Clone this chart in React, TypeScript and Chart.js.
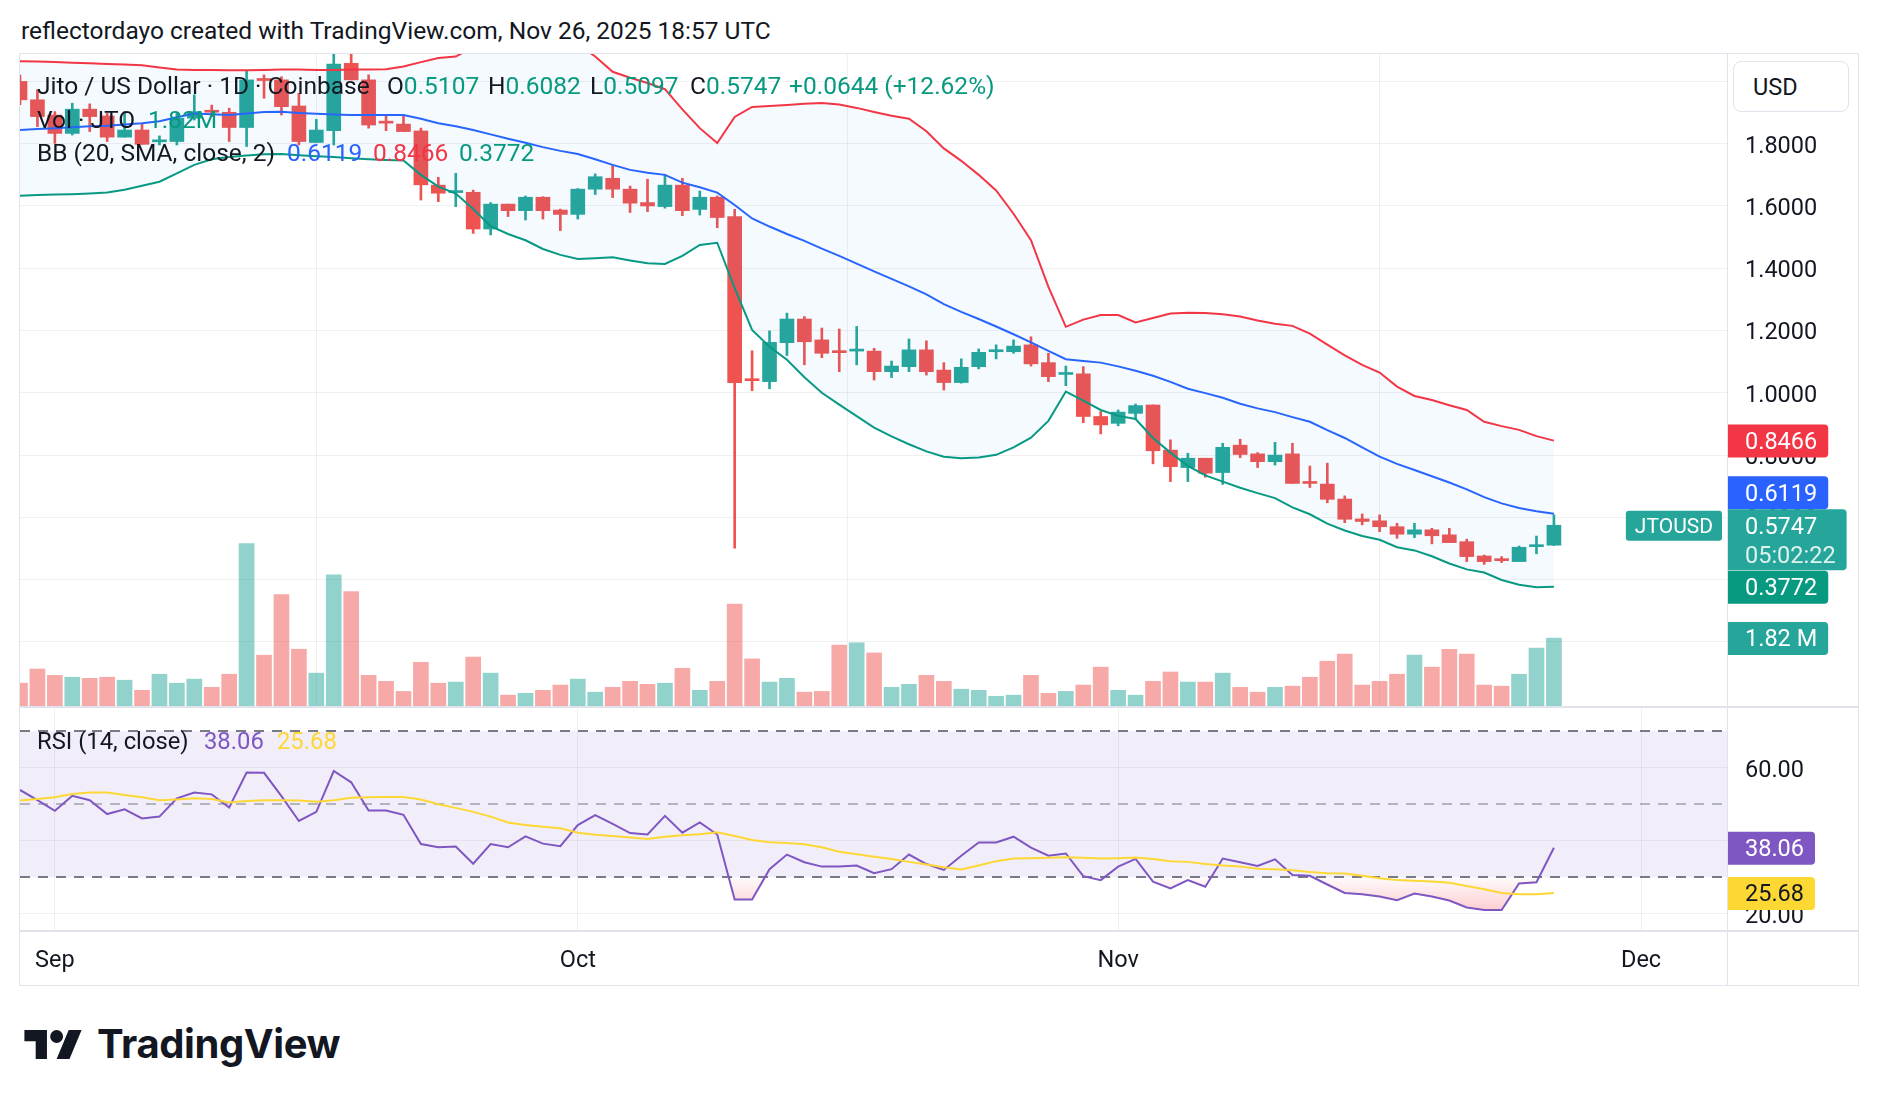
import React, { useEffect, useRef } from 'react';
import { Chart, registerables } from 'chart.js';

Chart.register(...registerables);

// ---------------- data (daily candles, first candle 2025-08-30) ----------------
const firstDate = '2025-08-30';
const axisOrigin = '2025-09-01';

const opens = [
  2.000, 1.941, 1.892, 1.833, 1.911, 1.889, 1.821, 1.844, 1.806, 1.807,
  1.882, 1.905, 1.901, 1.852, 2.007, 2.005, 1.921, 1.804, 1.842, 2.058,
  2.005, 1.871, 1.863, 1.841, 1.667, 1.643, 1.644, 1.526, 1.606, 1.585,
  1.628, 1.587, 1.573, 1.654, 1.689, 1.654, 1.611, 1.598, 1.667, 1.589,
  1.628, 1.566, 1.043, 1.036, 1.161, 1.237, 1.170, 1.134, 1.134, 1.134,
  1.068, 1.084, 1.138, 1.073, 1.033, 1.084, 1.132, 1.132, 1.154, 1.097,
  1.059, 1.061, 0.924, 0.902, 0.934, 0.961, 0.816, 0.760, 0.790, 0.744,
  0.832, 0.804, 0.779, 0.804, 0.715, 0.707, 0.659, 0.595, 0.589, 0.570,
  0.546, 0.560, 0.544, 0.522, 0.476, 0.467, 0.458, 0.506, 0.5107,
];
const highs = [
  2.020, 1.973, 1.903, 1.930, 1.928, 1.898, 1.903, 1.863, 1.825, 1.898,
  1.957, 1.924, 1.914, 2.035, 2.021, 2.015, 1.962, 1.878, 2.095, 2.095,
  2.021, 1.892, 1.892, 1.850, 1.692, 1.705, 1.651, 1.611, 1.606, 1.632,
  1.630, 1.590, 1.656, 1.703, 1.730, 1.664, 1.686, 1.700, 1.689, 1.648,
  1.632, 1.589, 1.135, 1.199, 1.256, 1.245, 1.208, 1.205, 1.213, 1.143,
  1.102, 1.173, 1.167, 1.097, 1.109, 1.141, 1.154, 1.170, 1.180, 1.127,
  1.086, 1.084, 0.940, 0.945, 0.964, 0.961, 0.849, 0.806, 0.790, 0.838,
  0.851, 0.808, 0.841, 0.838, 0.765, 0.774, 0.669, 0.611, 0.608, 0.581,
  0.581, 0.565, 0.565, 0.530, 0.479, 0.474, 0.508, 0.540, 0.6082,
];
const lows = [
  1.925, 1.855, 1.801, 1.828, 1.839, 1.807, 1.821, 1.798, 1.796, 1.796,
  1.876, 1.887, 1.807, 1.791, 1.946, 1.892, 1.796, 1.804, 1.796, 2.005,
  1.850, 1.842, 1.839, 1.619, 1.614, 1.598, 1.512, 1.507, 1.566, 1.555,
  1.558, 1.521, 1.558, 1.637, 1.627, 1.579, 1.582, 1.593, 1.569, 1.571,
  1.530, 0.501, 1.007, 1.013, 1.120, 1.090, 1.113, 1.068, 1.090, 1.041,
  1.049, 1.068, 1.057, 1.009, 1.031, 1.077, 1.109, 1.127, 1.086, 1.036,
  1.023, 0.904, 0.868, 0.894, 0.916, 0.772, 0.715, 0.715, 0.729, 0.706,
  0.792, 0.760, 0.768, 0.709, 0.696, 0.647, 0.583, 0.576, 0.554, 0.533,
  0.535, 0.515, 0.519, 0.458, 0.449, 0.455, 0.458, 0.483, 0.5097,
];
const closes = [
  1.941, 1.887, 1.833, 1.911, 1.887, 1.821, 1.844, 1.798, 1.810, 1.882,
  1.903, 1.901, 1.852, 2.005, 2.003, 1.919, 1.807, 1.844, 2.056, 2.005,
  1.860, 1.866, 1.839, 1.668, 1.641, 1.646, 1.526, 1.606, 1.585, 1.628,
  1.585, 1.573, 1.654, 1.694, 1.654, 1.609, 1.600, 1.667, 1.585, 1.628,
  1.563, 1.033, 1.039, 1.162, 1.237, 1.164, 1.127, 1.129, 1.137, 1.068,
  1.086, 1.138, 1.068, 1.033, 1.082, 1.130, 1.136, 1.150, 1.093, 1.052,
  1.063, 0.924, 0.897, 0.938, 0.959, 0.814, 0.763, 0.790, 0.742, 0.825,
  0.802, 0.779, 0.800, 0.709, 0.709, 0.658, 0.594, 0.587, 0.570, 0.546,
  0.560, 0.541, 0.519, 0.474, 0.458, 0.461, 0.504, 0.5103, 0.5747,
];
// volume, millions of JTO
const volumes = [
  0.61, 0.99, 0.82, 0.77, 0.74, 0.77, 0.69, 0.42, 0.85, 0.61,
  0.72, 0.50, 0.85, 4.35, 1.36, 2.98, 1.52, 0.88, 3.51, 3.06,
  0.82, 0.66, 0.39, 1.17, 0.61, 0.64, 1.31, 0.88, 0.29, 0.34,
  0.42, 0.56, 0.72, 0.37, 0.50, 0.66, 0.58, 0.61, 1.01, 0.42,
  0.66, 2.73, 1.26, 0.64, 0.74, 0.37, 0.39, 1.63, 1.69, 1.42,
  0.50, 0.58, 0.82, 0.66, 0.45, 0.42, 0.26, 0.29, 0.82, 0.34,
  0.39, 0.56, 1.04, 0.42, 0.29, 0.66, 0.91, 0.64, 0.64, 0.88,
  0.50, 0.37, 0.50, 0.53, 0.77, 1.20, 1.39, 0.56, 0.66, 0.85,
  1.36, 1.04, 1.52, 1.39, 0.56, 0.53, 0.85, 1.55, 1.82,
];
// Bollinger Bands (20, SMA, close, 2)
const bbUpper = [
  2.065, 2.064, 2.062, 2.060, 2.058, 2.056, 2.054, 2.052, 2.045, 2.038,
  2.037, 2.037, 2.036, 2.036, 2.037, 2.038, 2.038, 2.037, 2.037, 2.038,
  2.038, 2.039, 2.048, 2.062, 2.075, 2.080, 2.110, 2.130, 2.150, 2.160,
  2.160, 2.150, 2.120, 2.080, 2.031, 2.012, 1.995, 1.975, 1.910, 1.850,
  1.802, 1.886, 1.918, 1.921, 1.924, 1.928, 1.931, 1.926, 1.915, 1.902,
  1.890, 1.880, 1.840, 1.785, 1.745, 1.700, 1.650, 1.575, 1.490, 1.340,
  1.212, 1.235, 1.250, 1.250, 1.226, 1.240, 1.255, 1.257, 1.256, 1.252,
  1.245, 1.232, 1.222, 1.215, 1.190, 1.155, 1.120, 1.090, 1.065, 1.020,
  0.990, 0.977, 0.960, 0.945, 0.907, 0.893, 0.881, 0.861, 0.8466,
];
const bbBasis = [
  1.844, 1.847, 1.850, 1.853, 1.856, 1.858, 1.862, 1.866, 1.872, 1.885,
  1.897, 1.895, 1.892, 1.897, 1.902, 1.903, 1.899, 1.896, 1.894, 1.892,
  1.892, 1.892, 1.892, 1.880, 1.866, 1.856, 1.844, 1.830, 1.816, 1.803,
  1.789, 1.777, 1.767, 1.750, 1.732, 1.716, 1.707, 1.700, 1.675, 1.660,
  1.643, 1.603, 1.560, 1.534, 1.510, 1.488, 1.463, 1.440, 1.415, 1.390,
  1.366, 1.342, 1.316, 1.285, 1.260, 1.237, 1.213, 1.188, 1.162, 1.135,
  1.108, 1.102, 1.097, 1.085, 1.071, 1.055, 1.035, 1.013, 0.999, 0.984,
  0.965, 0.950, 0.938, 0.922, 0.907, 0.880, 0.855, 0.825, 0.795, 0.772,
  0.752, 0.732, 0.712, 0.690, 0.665, 0.645, 0.630, 0.620, 0.6119,
];
const bbLower = [
  1.633, 1.635, 1.637, 1.638, 1.640, 1.643, 1.652, 1.665, 1.678, 1.705,
  1.732, 1.750, 1.757, 1.762, 1.766, 1.767, 1.763, 1.760, 1.757, 1.753,
  1.750, 1.748, 1.746, 1.700, 1.662, 1.640, 1.590, 1.535, 1.510, 1.490,
  1.462, 1.443, 1.430, 1.432, 1.435, 1.425, 1.416, 1.414, 1.440, 1.475,
  1.482, 1.336, 1.202, 1.148, 1.106, 1.050, 1.000, 0.962, 0.925, 0.888,
  0.860, 0.835, 0.812, 0.795, 0.790, 0.792, 0.801, 0.825, 0.856, 0.910,
  1.004, 0.975, 0.945, 0.926, 0.916, 0.855, 0.808, 0.765, 0.735, 0.715,
  0.695, 0.678, 0.662, 0.632, 0.610, 0.580, 0.558, 0.540, 0.528, 0.504,
  0.494, 0.475, 0.452, 0.433, 0.423, 0.399, 0.384, 0.376, 0.3772,
];
// RSI (14, close) and its moving average
const rsi = [
  53.9, 51.1, 48.2, 52.3, 51.1, 47.3, 48.6, 46.1, 46.6, 51.6,
  53.2, 52.7, 49.1, 58.7, 58.6, 52.2, 45.4, 47.9, 59.1, 56.0,
  48.3, 48.3, 47.1, 39.1, 38.2, 38.4, 33.7, 39.1, 38.2, 41.2,
  39.2, 38.5, 44.3, 47.0, 44.6, 42.1, 41.7, 46.8, 42.2, 45.0,
  41.7, 23.9, 23.9, 32.2, 36.2, 34.1, 32.9, 32.9, 33.2, 31.1,
  32.2, 36.2, 33.6, 32.0, 35.9, 39.5, 39.5, 41.1, 38.1, 35.9,
  36.5, 30.3, 29.2, 32.9, 35.0, 28.8, 26.9, 29.2, 27.4, 35.1,
  34.1, 33.1, 34.9, 30.6, 30.4, 28.0, 25.7, 25.3, 24.7, 23.7,
  25.5, 24.7, 23.6, 21.7, 21.0, 21.0, 28.3, 28.6, 38.06,
];
const rsiMa = [
  51.0, 51.4, 51.9, 52.8, 53.2, 53.2, 52.5, 51.9, 51.1, 51.3,
  51.6, 51.4, 50.5, 50.9, 51.1, 51.1, 51.0, 50.7, 51.1, 51.8,
  51.9, 52.0, 52.0, 51.3, 50.0, 49.0, 47.9, 46.6, 45.0, 44.3,
  43.8, 43.4, 42.2, 41.6, 41.3, 40.9, 40.5, 41.1, 41.5, 41.8,
  42.3, 41.3, 40.2, 39.6, 39.4, 39.0, 38.2, 37.0, 36.3, 35.6,
  35.0, 34.2, 33.5, 32.7, 32.1, 33.2, 34.4, 35.1, 35.2, 35.3,
  35.5, 35.3, 35.1, 35.2, 35.4, 35.0, 34.4, 34.2, 33.6, 33.2,
  32.9, 32.3, 32.2, 31.9, 31.4, 31.1, 31.0, 30.4, 29.7, 29.2,
  29.0, 28.8, 28.5, 27.6, 26.7, 25.7, 25.3, 25.3, 25.68,
];

const monthStarts = ['2025-09-01', '2025-10-01', '2025-11-01', '2025-12-01'];
const monthLabels = ['Sep', 'Oct', 'Nov', 'Dec'];
const priceTicks = [0.2, 0.4, 0.6, 0.8, 1.0, 1.2, 1.4, 1.6, 1.8, 2.0];
const rsiTicks = [20, 40, 60];
const rsiBands = [70, 50, 30];
const countdown = '05:02:22';

// ---------------- styling / layout ----------------
const FONT = 'Roboto, "Liberation Sans", Arial, sans-serif';
const TEXT = '#131722';
const GRID = 'rgba(42, 46, 57, 0.07)';
const LINE = '#E0E3EB';
const UP = '#26A69A';
const DOWN = '#EF5350';
const TAG_FONT = 23.5;

const X_MIN = -2.0;
const X_MAX = 95.93;
const P_MIN = -0.0057;
const P_MAX = 2.0913;
const V_MAX = 17.48;
const R_MIN = 15.26;
const R_MAX = 76.36;
const AXIS_W = 132;
const TIME_H = 54;

const DAY = 86400000;
const dayOf = (s: string) => (Date.parse(s + 'T00:00:00Z') - Date.parse(axisOrigin + 'T00:00:00Z')) / DAY;
const x0 = dayOf(firstDate);
const xs = opens.map((_, i) => x0 + i);
const monthIdx = monthStarts.map(dayOf);
const isUp = closes.map((c, i) => c >= opens[i]);
const last = closes.length - 1;

function drawTag(ctx: CanvasRenderingContext2D, x: number, top: number, h: number, lines: string[], bg: string, fg: string) {
  ctx.save();
  ctx.font = `${TAG_FONT}px ${FONT}`;
  const tw = Math.max(...lines.map((l) => ctx.measureText(l).width));
  const w = 17 + tw + 11;
  ctx.fillStyle = bg;
  ctx.beginPath();
  (ctx as any).roundRect(x, top, w, h, [0, 4, 4, 0]);
  ctx.fill();
  ctx.fillStyle = fg;
  ctx.textBaseline = 'middle';
  ctx.textAlign = 'left';
  lines.forEach((l, k) => {
    ctx.globalAlpha = k ? 0.85 : 1;
    ctx.fillText(l, x + 17, top + 18.5 + k * 29.5);
  });
  ctx.restore();
}

type Tag = { py: number; lines: string[]; bg: string; fg: string; fixed?: boolean; top?: number; h?: number };

function layoutAndDraw(ctx: CanvasRenderingContext2D, x: number, tags: Tag[]) {
  tags.forEach((t) => {
    t.h = t.lines.length > 1 ? 61 : 33;
    t.top = t.py - 16;
  });
  tags.sort((a, b) => a.py - b.py);
  const k = Math.max(0, tags.findIndex((t) => t.fixed));
  for (let j = k - 1; j >= 0; j--) tags[j].top = Math.min(tags[j].top!, tags[j + 1].top! - tags[j].h!);
  for (let j = k + 1; j < tags.length; j++) tags[j].top = Math.max(tags[j].top!, tags[j - 1].top! + tags[j - 1].h!);
  tags.forEach((t) => drawTag(ctx, x, t.top!, t.h!, t.lines, t.bg, t.fg));
}

const mainTagsPlugin = {
  id: 'mainTags',
  afterDraw(chart: any) {
    const { ctx, scales, chartArea } = chart;
    const y = scales.y;
    const yv = scales.yVol;
    const ax = chartArea.right + 1;
    // symbol tag left of the axis
    const pc = y.getPixelForValue(closes[last]);
    ctx.save();
    ctx.font = `21px ${FONT}`;
    const sw = ctx.measureText('JTOUSD').width + 18;
    ctx.fillStyle = UP;
    ctx.beginPath();
    ctx.roundRect(chartArea.right - 5 - sw, pc - 14.5, sw, 30, 3);
    ctx.fill();
    ctx.fillStyle = '#ffffff';
    ctx.textBaseline = 'middle';
    ctx.fillText('JTOUSD', chartArea.right - 5 - sw + 9, pc + 2);
    ctx.restore();
    layoutAndDraw(ctx, ax, [
      { py: y.getPixelForValue(bbUpper[last]), lines: [bbUpper[last].toFixed(4)], bg: '#F23645', fg: '#ffffff' },
      { py: y.getPixelForValue(bbBasis[last]), lines: [bbBasis[last].toFixed(4)], bg: '#2962FF', fg: '#ffffff' },
      { py: pc, lines: [closes[last].toFixed(4), countdown], bg: UP, fg: '#ffffff', fixed: true },
      { py: y.getPixelForValue(bbLower[last]), lines: [bbLower[last].toFixed(4)], bg: '#089981', fg: '#ffffff' },
      { py: yv.getPixelForValue(volumes[last]), lines: [volumes[last].toFixed(2) + ' M'], bg: UP, fg: '#ffffff' },
    ]);
  },
};

const rsiPlugin = {
  id: 'rsiBands',
  beforeDatasetsDraw(chart: any) {
    const { ctx, scales, chartArea } = chart;
    const y = scales.y;
    const yTop = y.getPixelForValue(rsiBands[0]);
    const yBot = y.getPixelForValue(rsiBands[2]);
    ctx.save();
    ctx.fillStyle = 'rgba(126, 87, 194, 0.1)';
    ctx.fillRect(chartArea.left, yTop, chartArea.right - chartArea.left, yBot - yTop);
    ctx.setLineDash([10, 8]);
    ctx.lineWidth = 2;
    rsiBands.forEach((v, i) => {
      ctx.strokeStyle = i === 1 ? 'rgba(120, 123, 134, 0.5)' : '#787B86';
      const py = Math.round(y.getPixelForValue(v));
      ctx.beginPath();
      ctx.moveTo(chartArea.left, py);
      ctx.lineTo(chartArea.right, py);
      ctx.stroke();
    });
    ctx.restore();
  },
  afterDraw(chart: any) {
    const { ctx, scales, chartArea } = chart;
    const y = scales.y;
    layoutAndDraw(ctx, chartArea.right + 1, [
      { py: y.getPixelForValue(rsi[last]), lines: [rsi[last].toFixed(2)], bg: '#7E57C2', fg: '#ffffff', fixed: true },
      { py: y.getPixelForValue(rsiMa[last]), lines: [rsiMa[last].toFixed(2)], bg: '#FDD835', fg: TEXT },
    ]);
  },
};

const tickFont = { family: FONT, size: 23.5 };

function xScale(showLabels: boolean) {
  return {
    type: 'linear',
    min: X_MIN,
    max: X_MAX,
    offset: false,
    position: 'bottom',
    grid: { color: GRID, lineWidth: 1, drawTicks: false },
    border: { display: false },
    ticks: {
      display: showLabels,
      color: TEXT,
      font: tickFont,
      padding: 16.5,
      autoSkip: false,
      maxRotation: 0,
      callback: (v: number) => {
        const k = monthIdx.indexOf(v);
        return k >= 0 ? monthLabels[k] : '';
      },
    },
    afterBuildTicks: (s: any) => {
      s.ticks = monthIdx.map((v) => ({ value: v }));
    },
    afterFit: (s: any) => {
      s.height = showLabels ? TIME_H : 0;
      s.paddingLeft = 0;
      s.paddingRight = 0;
    },
  };
}

function yScale(min: number, max: number, ticks: number[], digits: number) {
  return {
    type: 'linear',
    position: 'right',
    min,
    max,
    grid: { color: GRID, lineWidth: 1, drawTicks: false },
    border: { display: false },
    ticks: {
      color: TEXT,
      font: tickFont,
      padding: 18,
      labelOffset: 3,
      autoSkip: false,
      callback: (v: number) => Number(v).toFixed(digits),
    },
    afterBuildTicks: (s: any) => {
      s.ticks = ticks.map((v) => ({ value: v }));
    },
    afterFit: (s: any) => {
      s.width = AXIS_W;
      s.paddingTop = 0;
      s.paddingBottom = 0;
    },
  };
}

export default function App() {
  const mainRef = useRef<HTMLCanvasElement>(null);
  const rsiRef = useRef<HTMLCanvasElement>(null);

  useEffect(() => {
    const pts = (arr: number[]) => xs.map((x, i) => ({ x, y: arr[i] }));
    const lineDs = (label: string, arr: number[], color: string, extra: any = {}) => ({
      type: 'line',
      label,
      data: pts(arr),
      borderColor: color,
      borderWidth: 2,
      pointRadius: 0,
      tension: 0,
      fill: false,
      clip: 0,
      ...extra,
    });

    const main = new Chart(mainRef.current as HTMLCanvasElement, {
      type: 'line',
      data: {
        datasets: [
          lineDs('BB upper', bbUpper, '#F23645', { fill: '+2', backgroundColor: 'rgba(33, 150, 243, 0.05)', order: 1 }),
          lineDs('BB basis', bbBasis, '#2962FF', { order: 1 }),
          lineDs('BB lower', bbLower, '#089981', { order: 1 }),
          {
            type: 'bar',
            label: 'wicks',
            data: xs.map((x, i) => ({ x, y: [lows[i], highs[i]] })),
            backgroundColor: isUp.map((u) => (u ? UP : DOWN)),
            barThickness: 2,
            grouped: false,
            clip: 0,
            order: 3,
          },
          {
            type: 'bar',
            label: 'bodies',
            data: xs.map((x, i) => ({ x, y: [opens[i], closes[i]] })),
            backgroundColor: isUp.map((u) => (u ? UP : DOWN)),
            barThickness: 14,
            minBarLength: 2,
            grouped: false,
            clip: 0,
            order: 2,
          },
          {
            type: 'bar',
            label: 'volume',
            yAxisID: 'yVol',
            data: xs.map((x, i) => ({ x, y: volumes[i] })),
            backgroundColor: isUp.map((u) => (u ? 'rgba(38, 166, 154, 0.5)' : 'rgba(239, 83, 80, 0.5)')),
            barThickness: 15,
            grouped: false,
            clip: 0,
            order: 4,
          },
        ] as any,
      },
      options: {
        responsive: false,
        maintainAspectRatio: false,
        animation: false,
        devicePixelRatio: 1,
        events: [],
        layout: { padding: 0 },
        plugins: { legend: { display: false }, tooltip: { enabled: false } },
        scales: {
          x: xScale(false),
          y: yScale(P_MIN, P_MAX, priceTicks, 4),
          yVol: { type: 'linear', display: false, min: 0, max: V_MAX, position: 'left' },
        } as any,
      },
      plugins: [mainTagsPlugin],
    } as any);

    const rctx = (rsiRef.current as HTMLCanvasElement).getContext('2d') as CanvasRenderingContext2D;
    const areaH = 277 - TIME_H;
    const yOf = (v: number) => ((R_MAX - v) / (R_MAX - R_MIN)) * areaH;
    const grad = rctx.createLinearGradient(0, yOf(30), 0, yOf(18));
    grad.addColorStop(0, 'rgba(242, 54, 69, 0.02)');
    grad.addColorStop(1, 'rgba(242, 54, 69, 0.32)');

    const rsiChart = new Chart(rsiRef.current as HTMLCanvasElement, {
      type: 'line',
      data: {
        datasets: [
          lineDs('RSI', rsi, '#7E57C2', {
            order: 1,
            fill: { target: { value: 30 }, above: 'rgba(0,0,0,0)', below: grad },
          }),
          lineDs('RSI MA', rsiMa, '#FDD835', { order: 0 }),
        ] as any,
      },
      options: {
        responsive: false,
        maintainAspectRatio: false,
        animation: false,
        devicePixelRatio: 1,
        events: [],
        layout: { padding: 0 },
        plugins: { legend: { display: false }, tooltip: { enabled: false } },
        scales: {
          x: xScale(true),
          y: yScale(R_MIN, R_MAX, rsiTicks, 2),
        } as any,
      },
      plugins: [rsiPlugin],
    } as any);

    return () => {
      main.destroy();
      rsiChart.destroy();
    };
  }, []);

  const prev = closes[last - 1];
  const chg = closes[last] - prev;
  const pct = (chg / prev) * 100;
  const teal = '#089981';
  const LG = 24.5;

  const abs = (left: number, top: number, extra: any = {}) => ({
    position: 'absolute' as const,
    left,
    top,
    whiteSpace: 'nowrap' as const,
    lineHeight: '24px',
    ...extra,
  });
  const hLine = (top: number, h: number) => (
    <div style={{ position: 'absolute', left: 19, top, width: 1840, height: h, background: LINE }} />
  );
  const vLine = (left: number) => (
    <div style={{ position: 'absolute', left, top: 53, width: 1, height: 932, background: LINE }} />
  );

  return (
    <div
      style={{
        position: 'absolute',
        left: 0,
        top: 0,
        width: 1878,
        height: 1106,
        background: '#ffffff',
        overflow: 'hidden',
        fontFamily: FONT,
        color: TEXT,
      }}
    >
      <div style={abs(21, 19, { fontSize: 24.5 })}>reflectordayo created with TradingView.com, Nov 26, 2025 18:57 UTC</div>

      <canvas ref={mainRef} width={1839} height={653} style={{ position: 'absolute', left: 20, top: 53 }} />
      <canvas ref={rsiRef} width={1839} height={277} style={{ position: 'absolute', left: 20, top: 708 }} />

      {hLine(53, 1)}
      {hLine(706, 2)}
      {hLine(930, 2)}
      {hLine(985, 1)}
      {vLine(19)}
      {vLine(1727)}
      {vLine(1858)}

      {/* legend, main pane */}
      <div style={abs(37, 74, { fontSize: LG })}>Jito / US Dollar · 1D · Coinbase</div>
      <div style={abs(387, 74, { fontSize: LG })}>O<span style={{ color: teal }}>{opens[last].toFixed(4)}</span></div>
      <div style={abs(488, 74, { fontSize: LG })}>H<span style={{ color: teal }}>{highs[last].toFixed(4)}</span></div>
      <div style={abs(590, 74, { fontSize: LG })}>L<span style={{ color: teal }}>{lows[last].toFixed(4)}</span></div>
      <div style={abs(690, 74, { fontSize: LG })}>C<span style={{ color: teal }}>{closes[last].toFixed(4)}</span></div>
      <div style={abs(789, 74, { fontSize: LG, color: teal })}>
        {(chg >= 0 ? '+' : '') + chg.toFixed(4)} ({(pct >= 0 ? '+' : '') + pct.toFixed(2)}%)
      </div>

      <div style={abs(37, 108, { fontSize: LG })}>Vol · JTO</div>
      <div style={abs(148, 108, { fontSize: LG, color: teal })}>{volumes[last].toFixed(2)}M</div>

      <div style={abs(37, 141, { fontSize: LG })}>BB (20, SMA, close, 2)</div>
      <div style={abs(287, 141, { fontSize: LG, color: '#2962FF' })}>{bbBasis[last].toFixed(4)}</div>
      <div style={abs(373, 141, { fontSize: LG, color: '#F23645' })}>{bbUpper[last].toFixed(4)}</div>
      <div style={abs(459, 141, { fontSize: LG, color: teal })}>{bbLower[last].toFixed(4)}</div>

      {/* legend, RSI pane */}
      <div style={abs(37, 730, { fontSize: 23.8, lineHeight: '23px' })}>RSI (14, close)</div>
      <div style={abs(204, 730, { fontSize: 23.8, lineHeight: '23px', color: '#7E57C2' })}>{rsi[last].toFixed(2)}</div>
      <div style={abs(277, 730, { fontSize: 23.8, lineHeight: '23px', color: '#FDD835' })}>{rsiMa[last].toFixed(2)}</div>

      {/* currency button */}
      <div
        style={{
          position: 'absolute',
          left: 1733,
          top: 61,
          width: 116,
          height: 51,
          border: `1px solid ${LINE}`,
          borderRadius: 8,
          background: '#ffffff',
          fontSize: 23.5,
          lineHeight: '51px',
          paddingLeft: 19,
          boxSizing: 'border-box',
        }}
      >
        USD
      </div>

      {/* TradingView logo */}
      <svg style={{ position: 'absolute', left: 24, top: 1030 }} width={58} height={29} viewBox="0 4 35.5 18">
        <path d="M14 22H7V11H0V4h14v18zM28 22h-8l7.5-18h8L28 22z" fill="#131722" />
        <circle cx="20" cy="8" r="4" fill="#131722" />
      </svg>
      <div
        style={{
          position: 'absolute',
          left: 97,
          top: 1024,
          fontFamily: 'Inter, Roboto, sans-serif',
          fontWeight: 700,
          fontSize: 40,
          lineHeight: '40px',
          letterSpacing: '-0.4px',
          color: '#131722',
        }}
      >
        TradingView
      </div>
    </div>
  );
}
